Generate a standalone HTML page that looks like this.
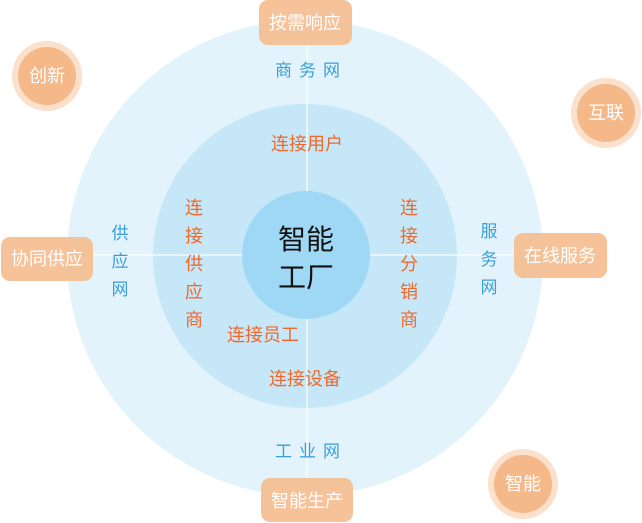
<!DOCTYPE html>
<html><head><meta charset="utf-8"><style>
html,body{margin:0;padding:0;background:#fff;width:642px;height:523px;overflow:hidden}
svg{display:block}
text{font-family:"Liberation Sans","Noto Sans CJK SC",sans-serif}
</style></head><body>
<svg width="642" height="523" viewBox="0 0 642 523" xmlns="http://www.w3.org/2000/svg">
<circle cx="305" cy="258" r="238" fill="#e2f3fc"/>
<circle cx="305" cy="256" r="152" fill="#c5e7f8"/>
<circle cx="306" cy="255" r="64" fill="#9fd8f5"/>
<line x1="307" y1="40" x2="307" y2="191" stroke="#fff" stroke-opacity="0.8" stroke-width="1.5"/>
<line x1="307" y1="319" x2="307" y2="480" stroke="#fff" stroke-opacity="0.8" stroke-width="1.5"/>
<line x1="90" y1="255" x2="242" y2="255" stroke="#fff" stroke-opacity="0.8" stroke-width="1.5"/>
<line x1="370" y1="255" x2="516" y2="255" stroke="#fff" stroke-opacity="0.8" stroke-width="1.5"/>
<g fill="#f4bf93" opacity="0.95">
<rect x="259" y="0" width="93" height="45" rx="9"/>
<rect x="1" y="237" width="92" height="44" rx="9"/>
<rect x="514" y="233" width="93" height="45" rx="9"/>
<rect x="261" y="478" width="92" height="44" rx="9"/>
</g>
<g fill="#fff" font-size="18" text-anchor="middle">
<text x="305" y="29">按需响应</text>
<text x="47" y="265">协同供应</text>
<text x="560" y="262">在线服务</text>
<text x="307" y="507">智能生产</text>
</g>
<g>
<circle cx="47" cy="76" r="35" fill="#fbe0cc"/><circle cx="47" cy="76" r="29" fill="#f5b888"/>
<circle cx="606" cy="113" r="35" fill="#fbe0cc"/><circle cx="606" cy="113" r="29" fill="#f5b888"/>
<circle cx="523" cy="484" r="35" fill="#fbe0cc"/><circle cx="523" cy="484" r="29" fill="#f5b888"/>
</g>
<g fill="#fff" font-size="18" text-anchor="middle">
<text x="47" y="82">创新</text>
<text x="606" y="119">互联</text>
<text x="523" y="490">智能</text>
</g>
<g fill="#3a9fd8" font-size="17" text-anchor="middle">
<text x="311" y="76" letter-spacing="7">商务网</text>
<text x="311" y="457" letter-spacing="7">工业网</text>
<text x="120" y="239">供</text><text x="120" y="267">应</text><text x="120" y="295">网</text>
<text x="489" y="237">服</text><text x="489" y="265">务</text><text x="489" y="293">网</text>
</g>
<g fill="#ee6a2c" font-size="18" text-anchor="middle">
<text x="307" y="150">连接用户</text>
<text x="263" y="341">连接员工</text>
<text x="305" y="385">连接设备</text>
<text x="194" y="214">连</text><text x="194" y="242">接</text><text x="194" y="270">供</text><text x="194" y="298">应</text><text x="194" y="326">商</text>
<text x="409" y="214">连</text><text x="409" y="242">接</text><text x="409" y="270">分</text><text x="409" y="298">销</text><text x="409" y="326">商</text>
</g>
<g fill="#111" font-size="28" text-anchor="middle">
<text x="306" y="249">智能</text>
<text x="306" y="287">工厂</text>
</g>
</svg>
</body></html>
